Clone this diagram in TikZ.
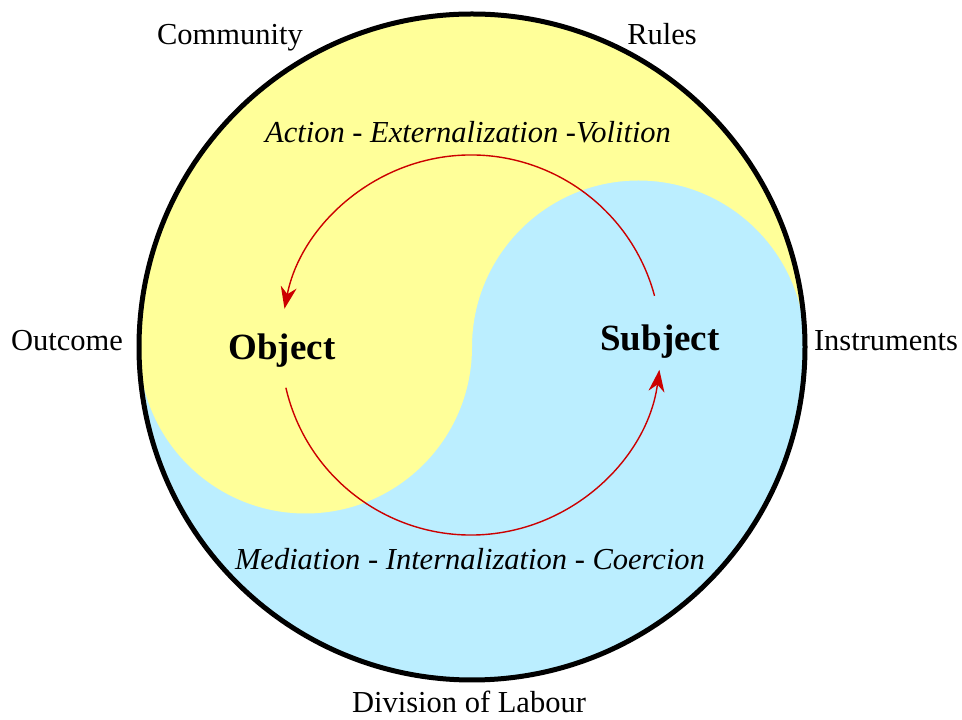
\documentclass[tikz,border=0pt]{standalone}
\usepackage{fontspec}
\setmainfont{Liberation Serif}
\usetikzlibrary{arrows.meta}
\definecolor{yinyellow}{RGB}{255,255,153}
\definecolor{yangblue}{RGB}{187,238,255}
\definecolor{flowred}{RGB}{204,0,0}

\begin{document}
\begin{tikzpicture}[x=1pt,y=1pt,
    lbl/.style={font=\fontsize{30.5}{36}\selectfont,anchor=base,inner sep=1pt},
    phase/.style={font=\fontsize{30.5}{36}\selectfont\itshape,anchor=base},
    pole/.style={font=\fontsize{37}{44}\selectfont\bfseries,anchor=base},
    flowarc/.style={draw=flowred,line width=1.4pt,-{Stealth[length=22pt,width=16pt]}}]
  \useasboundingbox (0,0) rectangle (962,720);
  \coordinate (cen) at (472,373);
  \coordinate (mid) at (471,375);
  % yin-yang disc
  \fill[yangblue] (cen) circle[radius=333];
  \fill[yinyellow] (139,373) arc[start angle=180,end angle=0,radius=333]
    arc[start angle=0,end angle=180,radius=166.5]
    arc[start angle=0,end angle=-180,radius=166.5] -- cycle;
  \draw[line width=5pt] (cen) circle[radius=333];
  % outer labels
  \node[lbl] (community) at (230,675) {Community};
  \node[lbl] (rules) at (662,675) {Rules};
  \node[lbl] (outcome) at (67,369) {Outcome};
  \node[lbl] (instruments) at (886,369) {Instruments};
  \node[lbl] (labour) at (469,7) {Division of Labour};
  % inner labels
  \node[phase] (action) at (468,577) {Action - Externalization -Volition};
  \node[phase] (mediation) at (470,150) {Mediation - Internalization - Coercion};
  \node[pole] (object) at (282,360) {Object};
  \node[pole] (subject) at (660,369) {Subject};
  % the cycle
  \draw[flowarc] ([shift={(15:190)}]mid) arc[start angle=15,end angle=169,radius=190];
  \draw[flowarc] ([shift={(193:190)}]mid) arc[start angle=193,end angle=352.5,radius=190];
\end{tikzpicture}
\end{document}
